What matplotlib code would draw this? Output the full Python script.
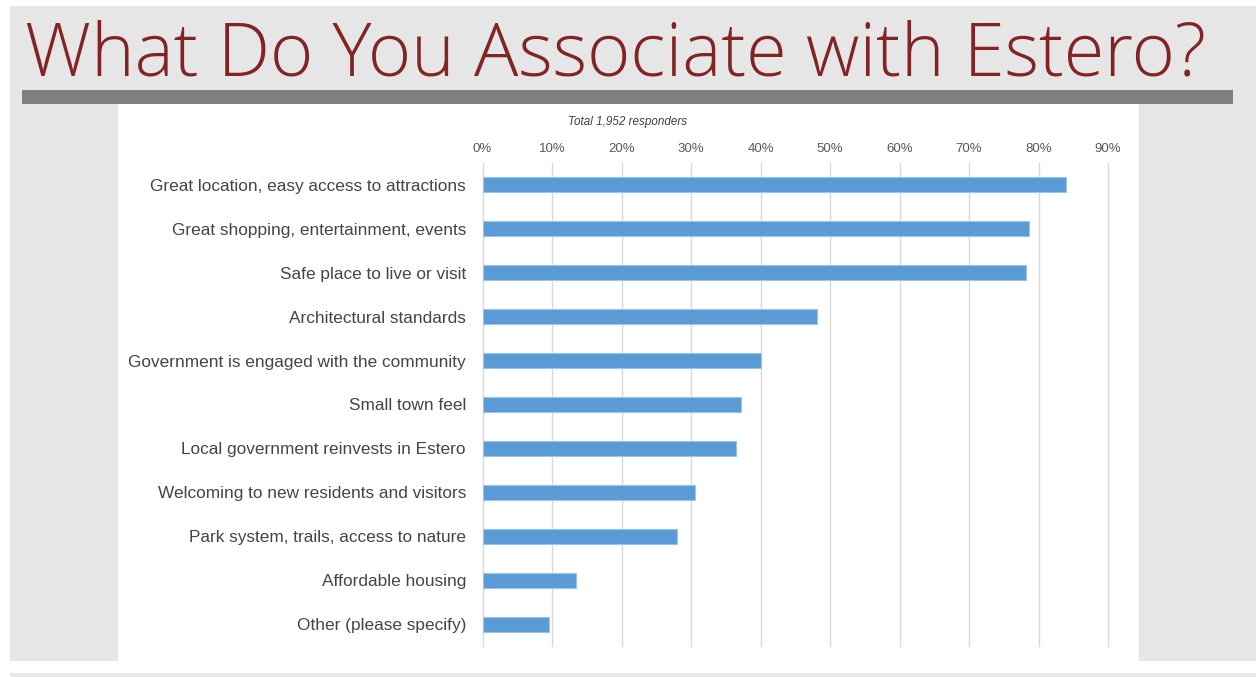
import matplotlib.pyplot as plt
from matplotlib.patches import Rectangle
from matplotlib.ticker import PercentFormatter

# Survey answers, top to bottom, share of responders
answers = [
    'Great location, easy access to attractions',
    'Great shopping, entertainment, events',
    'Safe place to live or visit',
    'Architectural standards',
    'Government is engaged with the community',
    'Small town feel',
    'Local government reinvests in Estero',
    'Welcoming to new residents and visitors',
    'Park system, trails, access to nature',
    'Affordable housing',
    'Other (please specify)',
]
shares = [84.0, 78.7, 78.2, 48.1, 40.1, 37.2, 36.5, 30.6, 28.0, 13.5, 9.6]
pct_ticks = [0, 10, 20, 30, 40, 50, 60, 70, 80, 90]

title = 'What Do You Associate with Estero?'
note = 'Total 1,952 responders'

W, H = 1256, 677
fig = plt.figure(figsize=(W / 100, H / 100), dpi=100)
fig.patch.set_facecolor('white')


def box(x0, y0, x1, y1, color):
    # rectangle given in pixel coordinates measured from the top-left corner
    fig.patches.append(Rectangle((x0 / W, 1 - y1 / H), (x1 - x0) / W, (y1 - y0) / H,
                                 transform=fig.transFigure, facecolor=color,
                                 edgecolor='none', zorder=-5))


# slide background
box(10, 6, W, 661, '#e6e6e6')
box(10, 673, W, H, '#e9e9e9')
box(22, 90, 1233, 104, '#7f7f7f')
box(118, 104, 1139, 661, 'white')

fig.text(25 / W, 1 - 75 / H, title, fontsize=53.3, color='#832424',
         family='Open Sans', fontweight='light', va='baseline', ha='left')

fig.text(628 / W, 1 - 122 / H, note, fontsize=8.4, style='italic',
         color='#404040', family='Liberation Sans', ha='center', va='center')

ax = fig.add_axes([482.6 / W, 1 - 646 / H, (1108 - 482.6) / W, (646 - 163) / H])
ax.set_facecolor('none')
ypos = list(range(len(answers)))
ax.barh(ypos, shares, height=0.34, color='#5b9bd5', edgecolor='#9dc3e6',
        linewidth=0.8, zorder=3)
ax.set_ylim(len(answers) - 0.5, -0.5)
ax.set_xlim(0, 90)
ax.set_xticks(pct_ticks)
ax.xaxis.set_major_formatter(PercentFormatter(decimals=0))
ax.set_yticks(ypos)
ax.set_yticklabels(answers)
ax.grid(axis='x', color='#d9d9d9', linewidth=1, zorder=0)
for gl in ax.get_xgridlines():
    gl.set_clip_on(False)
for s in ax.spines.values():
    s.set_visible(False)
ax.tick_params(axis='x', top=False, bottom=False, labeltop=True, labelbottom=False,
               length=0, pad=5.5, labelsize=9.5, labelcolor='#595959')
ax.tick_params(axis='y', left=False, length=0, pad=12, labelsize=12.4,
               labelcolor='#454545')
for lab in ax.get_xticklabels() + ax.get_yticklabels():
    lab.set_family('Liberation Sans')

plt.savefig('out.png', dpi=100)
